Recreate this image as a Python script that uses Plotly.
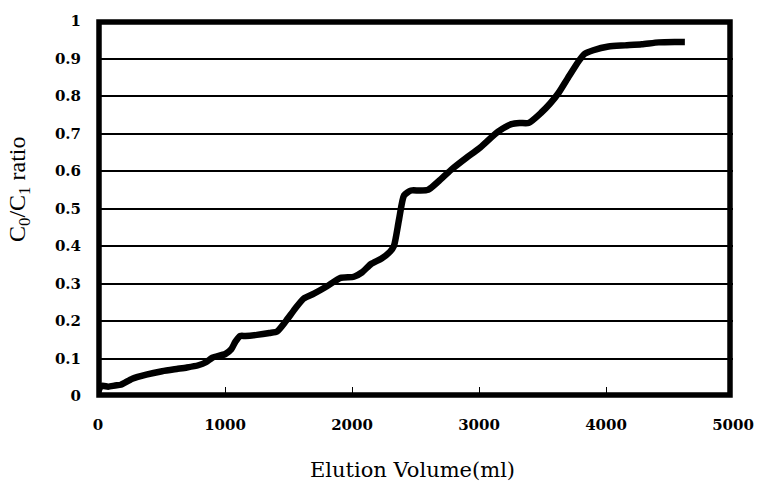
import plotly.graph_objects as go

volume = [0, 30, 80, 135, 180, 270, 380, 505, 620, 700, 790, 850, 900, 1003, 1050, 1082, 1120, 1160,
          1250, 1350, 1410, 1480, 1550, 1620, 1700, 1800, 1910, 2015, 2080, 2150, 2230, 2300, 2330,
          2370, 2410, 2465, 2530, 2600, 2680, 2780, 2900, 3000, 3150, 3255, 3320, 3390, 3491, 3560,
          3626, 3700, 3785, 3830, 3900, 4020, 4150, 4281, 4415, 4540, 4621]
ratio = [0.012, 0.027, 0.025, 0.028, 0.030, 0.046, 0.057, 0.066, 0.072, 0.076, 0.082, 0.090, 0.102, 0.112, 0.125,
         0.145, 0.160, 0.160, 0.163, 0.168, 0.172, 0.200, 0.232, 0.260, 0.273, 0.292, 0.315, 0.318, 0.330, 0.352,
         0.366, 0.385, 0.400, 0.470, 0.535, 0.548, 0.548, 0.550, 0.572, 0.603, 0.635, 0.660, 0.705, 0.725, 0.728,
         0.728, 0.756, 0.780, 0.808, 0.848, 0.893, 0.912, 0.922, 0.932, 0.935, 0.938, 0.943, 0.944, 0.944]

x_ticks = [0, 1000, 2000, 3000, 4000, 5000]
y_ticks = [0, 0.1, 0.2, 0.3, 0.4, 0.5, 0.6, 0.7, 0.8, 0.9, 1]
y_tick_text = ["0", "0.1", "0.2", "0.3", "0.4", "0.5", "0.6", "0.7", "0.8", "0.9", "1"]

W, H = 758, 485
L, R, T, B = 98, 25, 21, 89
pw, ph = W - L - R, H - T - B

fig = go.Figure()
fig.add_trace(go.Scatter(
    x=volume, y=ratio, mode="lines",
    line=dict(color="black", width=6.5, shape="spline", smoothing=0.6),
    showlegend=False, hoverinfo="skip",
))

tickfont = dict(family="DejaVu Serif", size=15, color="black", weight="bold")

fig.update_layout(
    width=W, height=H,
    margin=dict(l=L, r=R, t=T, b=B, autoexpand=False),
    paper_bgcolor="white", plot_bgcolor="white",
    xaxis=dict(
        range=[0, 5000], tickvals=x_ticks, ticks="inside", ticklen=9, tickwidth=1, tickcolor="black",
        showgrid=False, zeroline=False, showline=False, automargin=False,
        tickfont=tickfont, ticklabelstandoff=18,
    ),
    yaxis=dict(
        range=[0, 1], tickvals=y_ticks, ticktext=y_tick_text, ticks="",
        showgrid=True, gridcolor="black", gridwidth=1.5, zeroline=False, showline=False, automargin=False,
        tickfont=tickfont, ticklabelstandoff=16,
    ),
    shapes=[dict(
        type="rect", xref="paper", yref="paper",
        x0=1 / pw, x1=(730 - L) / pw, y0=(H - B - 395) / ph, y1=1 - 1 / ph,
        line=dict(color="black", width=5.5), fillcolor="rgba(0,0,0,0)", layer="above",
    )],
    annotations=[
        dict(
            text="C<sub>0</sub>/C<sub>1</sub> ratio", textangle=-90,
            xref="paper", yref="paper", x=(19 - L) / pw, y=(H - B - 190) / ph,
            xanchor="center", yanchor="middle", showarrow=False,
            font=dict(family="Liberation Serif", size=24, color="black"),
        ),
        dict(
            text="Elution Volume(ml)",
            xref="paper", yref="paper", x=(412 - L) / pw, y=(H - B - 470) / ph,
            xanchor="center", yanchor="middle", showarrow=False,
            font=dict(family="DejaVu Serif", size=21, color="black"),
        ),
    ],
)

fig.write_html("out.html")
